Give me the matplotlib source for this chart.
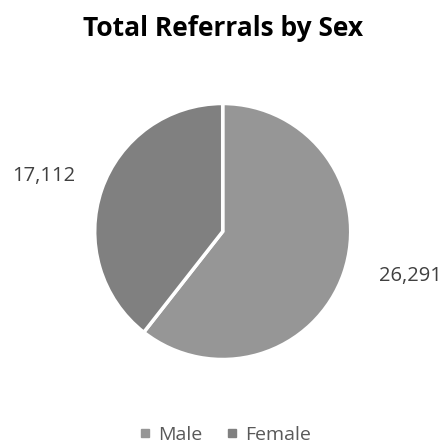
import matplotlib.pyplot as plt
from matplotlib.lines import Line2D

# data
categories = ["Male", "Female"]
referrals = [26291, 17112]
colors = ["#969696", "#808080"]

plt.rcParams['font.family'] = ['Open Sans', 'DejaVu Sans']

fig = plt.figure(figsize=(4.46, 4.45), dpi=100)
fig.patch.set_facecolor("white")

# axes sized so the pie has ~128 px radius centred at (223, 231)
ax = fig.add_axes([94.7 / 446, 85.5 / 445, 256 / 446, 256 / 445])
wedges, _ = ax.pie(referrals, colors=colors, startangle=90, counterclock=False,
                   wedgeprops=dict(edgecolor="white", linewidth=2.5))
ax.set_xlim(-1, 1)
ax.set_ylim(-1, 1)
ax.set_aspect("equal")

# data labels, placed like Excel's best fit
label_pos = [(1.463, -0.348), (-1.396, 0.434)]
for v, (x, y) in zip(referrals, label_pos):
    ax.text(x, y, f"{v:,}", ha="center", va="center", fontsize=14.5,
            color="#404040", clip_on=False)

fig.text(0.5, 1 - 28 / 445, "Total Referrals by Sex", ha="center", va="center",
         fontsize=19, fontweight="bold", color="black")

handles = [Line2D([], [], marker="s", linestyle="", markersize=6,
                  markerfacecolor=c, markeredgecolor=c) for c in colors]
leg = fig.legend(handles, categories, loc="center", bbox_to_anchor=(0.5, 1 - 435 / 445),
                 ncol=2, frameon=False, fontsize=14, handletextpad=0.2,
                 columnspacing=1.0, handlelength=1.0)
for t in leg.get_texts():
    t.set_color("#595959")

plt.savefig("out.png", dpi=100)
